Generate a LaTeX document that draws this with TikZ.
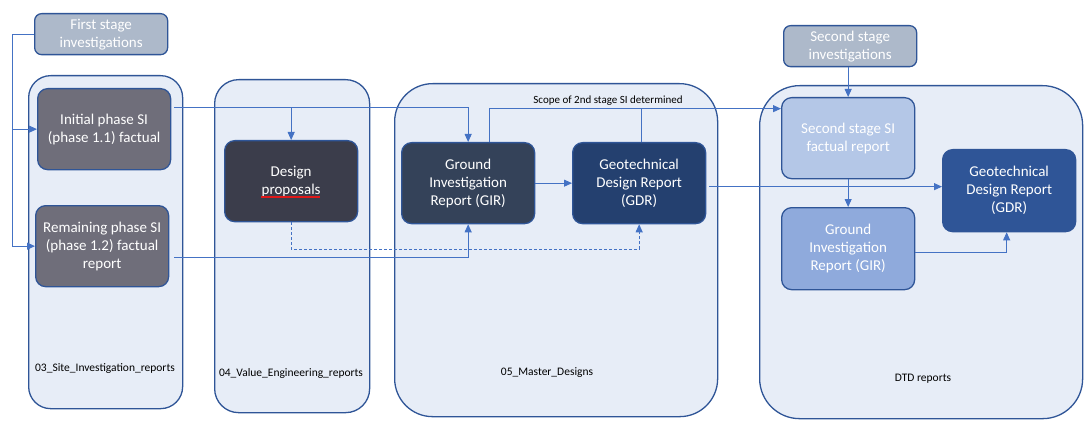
\documentclass[tikz,border=0pt]{standalone}
\usepackage{fontspec}
\setmainfont{Carlito}
\usetikzlibrary{arrows.meta,calc}
\definecolor{contfill}{HTML}{E7EDF7}
\definecolor{bord}{HTML}{2F5597}
\definecolor{linec}{HTML}{4472C4}
\definecolor{stagegray}{HTML}{ADB9CA}
\definecolor{sigray}{HTML}{6F6E7A}
\definecolor{dpdark}{HTML}{3B3D4B}
\definecolor{girdark}{HTML}{344259}
\definecolor{gdrdark}{HTML}{24406F}
\definecolor{sslight}{HTML}{B4C7E7}
\definecolor{girmid}{HTML}{8FAADC}
\definecolor{gdrmid}{HTML}{2F5597}
\definecolor{spellred}{HTML}{E01818}
\begin{document}
\begin{tikzpicture}[x=1pt,y=-1pt,
  container/.style={draw=bord, fill=contfill, line width=1.3pt, anchor=north west, inner sep=0pt},
  box/.style={draw=bord, line width=1.3pt, rounded corners=10pt, anchor=north west, inner sep=0pt,
    minimum width=133pt, minimum height=81pt, text=white, align=center,
    font=\fontsize{15}{18}\selectfont},
  stagebox/.style={box, fill=stagegray, minimum height=41pt, rounded corners=7pt},
  lbl/.style={font=\fontsize{11.5}{14}\selectfont, text=black, inner sep=0pt},
  conn/.style={draw=linec, line width=0.9pt},
  arr/.style={conn, -{Triangle[length=8pt,width=7pt]}}
]
\useasboundingbox[fill=white] (0,0) rectangle (1084,433);

% containers
\node[container, minimum width=154pt, minimum height=333pt, rounded corners=22pt] (c1) at (28,75) {};
\node[container, minimum width=155pt, minimum height=333pt, rounded corners=24pt] (c2) at (214,79) {};
\node[container, minimum width=323pt, minimum height=333pt, rounded corners=38pt] (c3) at (394,83) {};
\node[container, minimum width=323pt, minimum height=333pt, rounded corners=40pt] (c4) at (759,85) {};

% container labels
\node[lbl] (l1) at (105,369) {03\_Site\_Investigation\_reports};
\node[lbl] (l2) at (291,373) {04\_Value\_Engineering\_reports};
\node[lbl] (l3) at (547,373) {05\_Master\_Designs};
\node[lbl] (l4) at (923,379) {DTD reports};

% boxes
\node[stagebox] (fs) at (34,13) {First stage\\investigations};
\node[stagebox] (ssi) at (783,25) {Second stage\\investigations};
\node[box, fill=sigray] (ini) at (37,88) {Initial phase SI\\(phase 1.1) factual};
\node[box, fill=sigray] (rem) at (35,205) {Remaining phase SI\\(phase 1.2) factual\\report};
\node[box, fill=dpdark] (dp) at (224,140) {Design\\proposals};
\node[box, fill=girdark] (gir) at (401,142) {Ground\\Investigation\\Report (GIR)};
\node[box, fill=gdrdark] (gdr) at (572,142) {Geotechnical\\Design Report\\(GDR)};
\node[box, fill=sslight] (ss) at (781,97) {Second stage SI\\factual report};
\node[box, fill=girmid, minimum height=82pt] (gir2) at (781,207) {Ground\\Investigation\\Report (GIR)};
\node[box, fill=gdrmid, minimum height=82pt] (gdr2) at (942,149) {Geotechnical\\Design Report\\(GDR)};

% spell-check underline under "proposals"
\draw[spellred, line width=2pt] (261,197) -- (320,197);

% scope label
\node[lbl, font=\fontsize{11}{13}\selectfont] (scope) at (608,101) {Scope of 2nd stage SI determined};

% connectors
\coordinate (fsl) at ([xshift=-22pt]fs.west);
\draw[conn] (fs.west) -- (fsl);
\draw[arr] (fsl) |- (ini.west);
\draw[arr] (fsl) |- (rem.west);

\coordinate (inir) at ([xshift=3pt,yshift=22pt]ini.east);
\draw[arr] (inir) -| (gir.north);
\draw[arr] (inir -| dp.north) -- (dp.north);

\coordinate (remr) at ([xshift=5pt,yshift=-11.5pt]rem.east);
\draw[arr] (remr) -| (gir.south);

\draw[arr, dash pattern=on 3pt off 2pt] (dp.south) -- ++(0,27) -| (gdr.south);

\draw[arr] (gir.east) -- (gdr.west);

\coordinate (girt) at ([xshift=21pt]gir.north);
\coordinate (sst) at ([yshift=29.5pt]ss.west);
\draw[arr] (girt) |- (sst);
\draw[conn] ([xshift=2.5pt]gdr.north) -- ([xshift=2.5pt]gdr.north |- sst);

\coordinate (gdrr) at ([xshift=3pt,yshift=-3.5pt]gdr.east);
\draw[arr] (gdrr) -- (gdrr -| gdr2.west);

\draw[arr] (ssi.south -| ss.north) -- (ss.north);
\draw[arr] (ss.south) -- (gir2.north);

\draw[arr] ([yshift=-4pt]gir2.east) -| ([xshift=-2.5pt]gdr2.south);
\end{tikzpicture}
\end{document}
